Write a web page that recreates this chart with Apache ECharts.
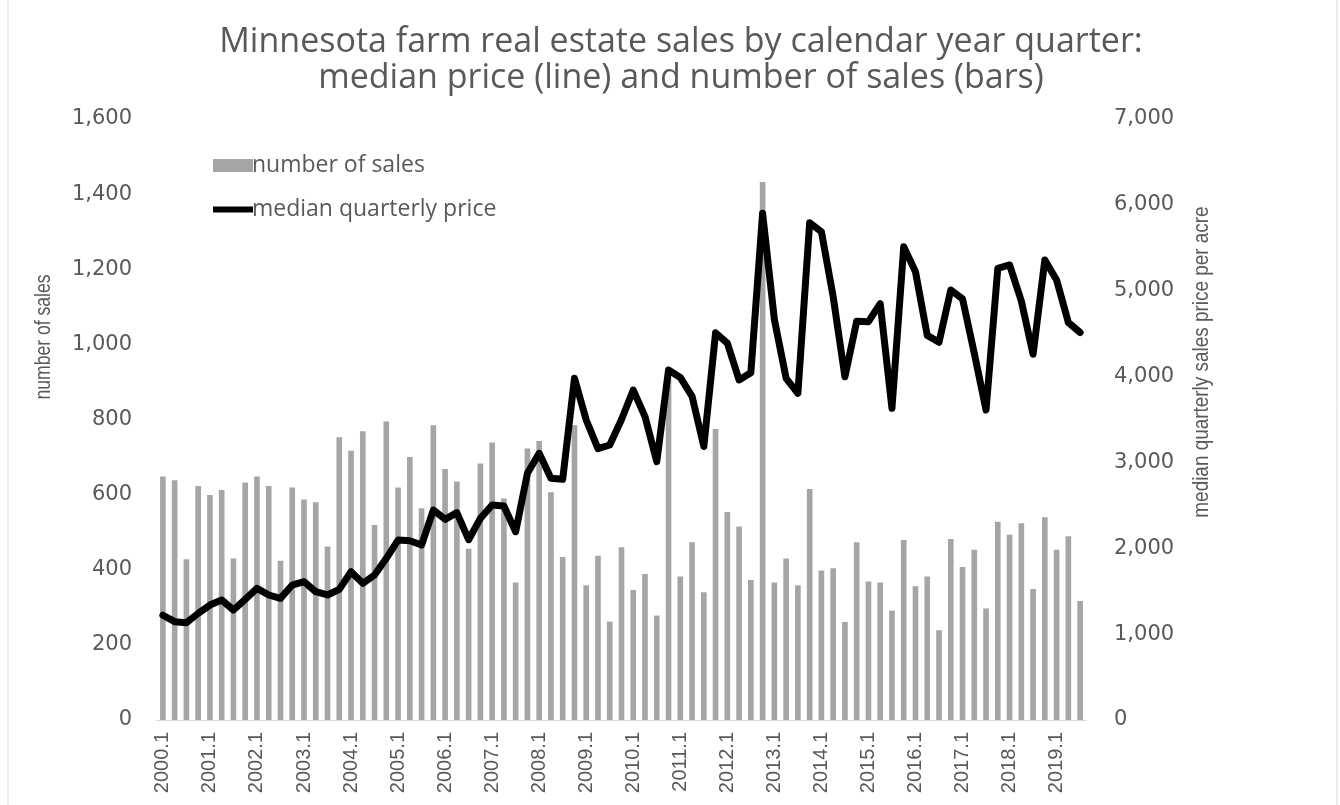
<!DOCTYPE html>
<html>
<head>
<meta charset="utf-8">
<script src="https://cdn.jsdelivr.net/npm/echarts@6/dist/echarts.min.js"></script>
<style>
  html, body { margin: 0; padding: 0; background: #fff; }
  #chart { width: 1340px; height: 805px; }
</style>
</head>
<body>
<div id="chart"></div>
<script>
// quarters 2000.1 .. 2019.3
const quarters = [];
for (let y = 2000; y <= 2019; y++) {
  for (let q = 1; q <= 4; q++) {
    if (y === 2019 && q === 4) break;
    quarters.push(y + '.' + q);
  }
}

const salesCount = [
  648, 638, 428, 623, 599, 612, 430, 632, 648, 623, 424, 619,
  587, 580, 462, 753, 717, 769, 519, 795, 619, 700, 564, 785,
  668, 635, 456, 683, 739, 590, 366, 723, 743, 606, 434, 785,
  359, 437, 262, 460, 346, 389, 278, 910, 382, 473, 340, 775,
  554, 515, 373, 1432, 366, 430, 359, 615, 398, 404, 261, 473,
  369, 366, 291, 479, 356, 382, 239, 482, 407, 453, 297, 528,
  493, 524, 349, 540, 453, 489, 317
];

const medianPrice = [
  1220, 1145, 1133, 1242, 1339, 1398, 1281, 1405, 1533, 1456, 1417, 1572,
  1611, 1494, 1456, 1522, 1727, 1592, 1689, 1883, 2096, 2088, 2038, 2446,
  2337, 2415, 2100, 2349, 2504, 2492, 2193, 2873, 3106, 2815, 2803, 3980,
  3494, 3160, 3203, 3500, 3843, 3533, 3009, 4076, 3990, 3770, 3185, 4510,
  4390, 3960, 4045, 5901, 4665, 3980, 3805, 5792, 5687, 4930, 3998, 4645,
  4639, 4850, 3630, 5513, 5221, 4480, 4400, 5008, 4905, 4271, 3611, 5261,
  5300, 4880, 4260, 5358, 5125, 4630, 4513
];

const textGray = '#595959';
const sans = "'Liberation Sans', Arial, sans-serif";

const chart = echarts.init(document.getElementById('chart'));

chart.setOption({
  backgroundColor: '#fff',
  animation: false,
  title: {
    text: 'Minnesota farm real estate sales by calendar year quarter:\nmedian price (line) and number of sales (bars)',
    left: 676,
    top: 19,
    textAlign: 'center',
    textStyle: {
      color: textGray,
      fontFamily: "'Open Sans', sans-serif",
      fontWeight: 'normal',
      fontSize: 34,
      lineHeight: 36
    }
  },
  legend: {
    orient: 'vertical',
    left: 208,
    top: 149,
    itemWidth: 40,
    itemHeight: 13,
    itemGap: 21,
    textStyle: { color: textGray, fontFamily: "'Open Sans', sans-serif", fontSize: 23, padding: [0, 0, 0, -6] },
    data: [
      { name: 'number of sales', icon: 'rect' },
      { name: 'median quarterly price', icon: 'path://M0,0 L40,0 L40,6 L0,6 Z' }
    ]
  },
  grid: { left: 157, right: 254, top: 119, bottom: 85 },
  xAxis: {
    type: 'category',
    data: quarters,
    axisLine: { lineStyle: { color: '#d9d9d9', width: 1 } },
    axisTick: { show: false },
    axisLabel: {
      interval: 3,
      rotate: 90,
      color: textGray,
      fontFamily: sans,
      fontSize: 20,
      margin: 12
    }
  },
  yAxis: [
    {
      type: 'value',
      min: 0,
      max: 1600,
      interval: 200,
      splitLine: { show: false },
      axisLine: { show: false },
      axisTick: { show: false },
      axisLabel: {
        color: textGray,
        fontFamily: "'DejaVu Sans', sans-serif",
        fontSize: 21,
        margin: 25,
        formatter: v => v.toLocaleString('en-US')
      }
    },
    {
      type: 'value',
      min: 0,
      max: 7000,
      interval: 1000,
      splitLine: { show: false },
      axisLine: { show: false },
      axisTick: { show: false },
      axisLabel: {
        color: textGray,
        fontFamily: "'DejaVu Sans', sans-serif",
        fontSize: 21,
        margin: 28,
        formatter: v => v.toLocaleString('en-US')
      }
    }
  ],
  series: [
    {
      name: 'number of sales',
      type: 'bar',
      yAxisIndex: 0,
      data: salesCount,
      barWidth: '48%',
      itemStyle: { color: '#a5a5a5' }
    },
    {
      name: 'median quarterly price',
      type: 'line',
      yAxisIndex: 1,
      data: medianPrice,
      symbol: 'none',
      lineStyle: { color: '#000', width: 7, join: 'round', cap: 'round' },
      itemStyle: { color: '#000' }
    }
  ],
  graphic: [
    {
      type: 'rect',
      shape: { x: 8, y: -2, width: 1329, height: 810 },
      style: { fill: 'none', stroke: '#d9d9d9', lineWidth: 1 },
      silent: true
    },
    {
      type: 'text',
      x: 44,
      y: 337,
      rotation: Math.PI / 2,
      scaleX: 0.8,
      style: {
        text: 'number of sales',
        fill: textGray,
        font: '22px ' + sans,
        textAlign: 'center',
        textVerticalAlign: 'middle'
      }
    },
    {
      type: 'text',
      x: 1202,
      y: 362,
      rotation: Math.PI / 2,
      scaleX: 0.86,
      style: {
        text: 'median quarterly sales price per acre',
        fill: textGray,
        font: '22px ' + sans,
        textAlign: 'center',
        textVerticalAlign: 'middle'
      }
    }
  ]
});

window.addEventListener('resize', () => chart.resize());
</script>
</body>
</html>
